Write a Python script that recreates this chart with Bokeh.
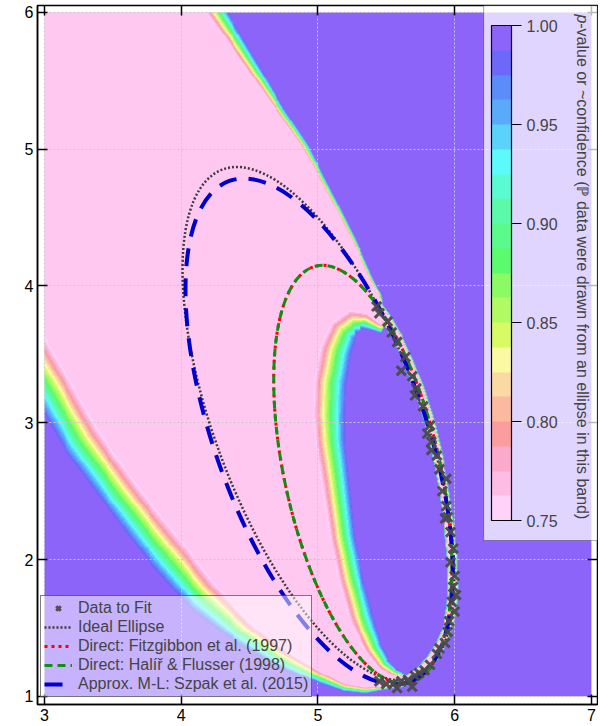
import numpy as np
from bokeh.plotting import figure
from bokeh.models import (Range1d, LinearColorMapper, ColorBar, FixedTicker,
                          PrintfTickFormatter, LinearAxis, Legend, LegendItem,
                          Label, BoxAnnotation)
from bokeh.embed import file_html
from bokeh.resources import INLINE

# ---------------- data ----------------
data_x = [5.43, 5.45, 5.51, 5.54, 5.58, 5.64, 5.61, 5.69, 5.71, 5.72, 5.77, 5.80, 5.82,
          5.83, 5.83, 5.87, 5.89, 5.94, 5.91, 5.94, 5.93, 5.95, 5.97, 5.99, 5.97, 6.00,
          5.99, 6.01, 5.98, 6.00, 5.96, 5.95, 5.93, 5.89, 5.87, 5.82, 5.78, 5.74, 5.71,
          5.69, 5.66, 5.61, 5.58, 5.55, 5.50, 5.45]
data_y = [3.85, 3.80, 3.74, 3.66, 3.59, 3.48, 3.38, 3.34, 3.20, 3.25, 3.12, 2.92, 2.98,
          2.86, 2.80, 2.76, 2.66, 2.59, 2.50, 2.39, 2.30, 2.31, 2.20, 2.08, 1.98, 1.88,
          1.80, 1.74, 1.69, 1.62, 1.55, 1.47, 1.39, 1.35, 1.31, 1.23, 1.19, 1.17, 1.15,
          1.07, 1.12, 1.11, 1.06, 1.09, 1.09, 1.11]

# points traced along each drawn ellipse (an ellipse is fitted through them)
ideal_x = [4.42, 4.19, 4.07, 4.01, 4.01, 4.05, 4.74, 4.99, 5.23, 5.43, 4.60, 4.87, 5.14,
           5.36, 5.69, 5.87, 5.96, 5.99, 5.90, 5.66]
ideal_y = [4.90, 4.78, 4.51, 4.20, 3.91, 3.59, 4.69, 4.51, 4.20, 3.88, 2.15, 1.64, 1.35,
           1.15, 3.34, 2.78, 2.25, 1.80, 1.38, 1.12]
direct_x = [5.01, 4.85, 4.74, 4.70, 4.69, 4.72, 4.85, 4.99, 5.14, 5.28, 5.43, 5.18, 5.33,
            5.43, 5.58, 5.74, 5.87, 5.96, 5.99, 5.95, 5.83, 5.66]
direct_y = [4.13, 4.05, 3.88, 3.69, 3.30, 2.80, 2.15, 1.84, 1.55, 1.30, 1.13, 4.10, 3.98,
            3.88, 3.62, 3.25, 2.78, 2.25, 1.80, 1.50, 1.27, 1.12]
szpak_x = [4.38, 4.21, 4.09, 4.05, 4.04, 4.04, 4.05, 4.55, 4.74, 4.92, 5.04, 5.16, 5.28,
           5.38, 4.50, 4.70, 4.92, 5.09, 5.28, 5.45, 5.69, 5.87, 5.96, 5.99, 5.90, 5.66]
szpak_y = [4.79, 4.66, 4.47, 4.27, 4.10, 3.88, 3.69, 4.77, 4.69, 4.58, 4.43, 4.27, 4.10,
           3.96, 2.15, 1.84, 1.50, 1.33, 1.15, 1.11, 3.34, 2.78, 2.25, 1.80, 1.38, 1.12]

# p-value field: traced band edges (pink side) and band widths
strip_x = [5.44, 5.50, 5.58, 5.66, 5.74, 5.81, 5.87, 5.92, 5.96, 5.985, 5.99, 5.98,
           5.95, 5.90, 5.83, 5.75, 5.66, 5.58, 5.50]
strip_y = [3.84, 3.76, 3.62, 3.45, 3.25, 3.03, 2.78, 2.52, 2.25, 2.00, 1.80, 1.65,
           1.50, 1.38, 1.27, 1.18, 1.12, 1.095, 1.09]
outer_right_x = [4.06, 4.175, 4.71, 4.89, 5.10, 5.25, 5.37, 5.45]
outer_right_y = [6.30, 6.00, 5.255, 5.00, 4.62, 4.33, 4.07, 3.92]
outer_right_w = [0.17, 0.15, 0.06, 0.05, 0.035, 0.03, 0.025, 0.02]
outer_left_x = [5.35, 5.20, 4.99, 4.75, 4.50, 4.25, 4.01, 3.82, 3.63, 3.39, 3.21, 3.01, 2.85]
outer_left_y = [1.065, 1.09, 1.20, 1.35, 1.55, 1.82, 2.13, 2.36, 2.61, 2.95, 3.27, 3.61, 3.90]
outer_left_w = [0.05, 0.06, 0.10, 0.15, 0.20, 0.27, 0.30, 0.29, 0.29, 0.30, 0.30, 0.30, 0.30]
hole_x = [5.55, 5.45, 5.35, 5.28, 5.23, 5.15, 5.09, 5.03, 4.98, 4.96, 4.97, 5.02, 5.10, 5.23, 5.36, 5.46]
hole_y = [1.15, 1.20, 1.32, 1.45, 1.55, 1.85, 2.15, 2.55, 2.85, 3.05, 3.30, 3.55, 3.73, 3.82, 3.80, 3.72]
hole_w = [0.06, 0.10, 0.14, 0.17, 0.19, 0.19, 0.19, 0.21, 0.23, 0.25, 0.25, 0.24, 0.22, 0.20, 0.14, 0.07]
strip_off = 0.022
strip_w = 0.018

cbar_ticks = [0.75, 0.80, 0.85, 0.90, 0.95, 1.00]
palette = ["#ffd2fa", "#fdbce4", "#fcaacb", "#fb9d9f", "#fbb9a0", "#fbd9a2",
           "#fbfaa4", "#d8fa64", "#b2fa64", "#8cfa64", "#5cfa6e", "#5afa8c",
           "#5afaaa", "#5afad2", "#5cfafa", "#5ad2fa", "#5aaafa", "#5a8cfa",
           "#6e68fa", "#8c64fa"]
pink = "#ffc8f0"

x_ticks = [3, 4, 5, 6, 7]
y_ticks = [1, 2, 3, 4, 5, 6]

# ---------------- build the field ----------------
nx, ny = 560, 700
xs = 3 + (np.arange(nx) + 0.5) * 4.0 / nx
ys = 1 + (np.arange(ny) + 0.5) * 5.0 / ny
X, Y = np.meshgrid(xs, ys)


def poly_dist(pts, widths):
    pts = np.asarray(pts, float)
    widths = np.asarray(widths, float)
    dmin = np.full(X.shape, np.inf)
    wsel = np.ones(X.shape)
    for i in range(len(pts) - 1):
        ax, ay = pts[i]
        bx, by = pts[i + 1]
        dx, dy = bx - ax, by - ay
        L2 = max(dx * dx + dy * dy, 1e-12)
        t = np.clip(((X - ax) * dx + (Y - ay) * dy) / L2, 0, 1)
        d = np.hypot(X - (ax + t * dx), Y - (ay + t * dy))
        m = d < dmin
        dmin = np.where(m, d, dmin)
        wsel = np.where(m, widths[i] * (1 - t) + widths[i + 1] * t, wsel)
    return dmin, wsel


def inside(poly):
    poly = np.asarray(poly, float)
    n = len(poly)
    res = np.zeros(X.shape, bool)
    for i in range(n):
        x1, y1 = poly[i]
        x2, y2 = poly[(i + 1) % n]
        if y1 == y2:
            continue
        cond = (y1 > Y) != (y2 > Y)
        xint = x1 + (Y - y1) * (x2 - x1) / (y2 - y1)
        res ^= cond & (X < xint)
    return res


S = np.column_stack([strip_x, strip_y])
tang = np.gradient(S, axis=0)
tang /= np.linalg.norm(tang, axis=1)[:, None]
nrm = np.column_stack([tang[:, 1], -tang[:, 0]])
sgn = np.sign(((S - np.array([5.0, 2.9])) * nrm).sum(1))
nrm *= sgn[:, None]
S_out = S + strip_off * nrm
S_in = S - strip_off * nrm

B_line = np.vstack([np.column_stack([outer_right_x, outer_right_y]), S_out,
                    np.column_stack([outer_left_x, outer_left_y])])
B_w = np.concatenate([outer_right_w, np.full(len(S), strip_w), outer_left_w])
B_poly = np.vstack([B_line, [[2.0, 7.0]]])

H_poly = np.vstack([S_in[1:17], np.column_stack([hole_x, hole_y])])
H_w = np.concatenate([np.full(16, strip_w), hole_w])
H_line = np.vstack([H_poly, H_poly[:1]])
H_wl = np.concatenate([H_w, H_w[:1]])

dB, wB = poly_dist(B_line, B_w)
inB = inside(B_poly)
pB = np.where(inB, 0.70, 0.75 + 0.25 * np.clip(dB / wB, 0, 1))
dH, wH = poly_dist(H_line, H_wl)
inH = inside(H_poly)
pH = np.where(inH, 0.75 + 0.25 * np.clip(dH / wH, 0, 1), 0.70)
field = np.maximum(pB, pH)


# ---------------- ellipse fits through traced points ----------------
def fit_ellipse(px, py):
    x = np.asarray(px, float)
    y = np.asarray(py, float)
    mx, my = x.mean(), y.mean()
    u, v = x - mx, y - my
    D = np.column_stack([u * u, u * v, v * v, u, v, np.ones_like(u)])
    _, _, Vt = np.linalg.svd(D)
    A, B, C, Dd, E, F = Vt[-1]
    u0, v0 = np.linalg.solve(np.array([[2 * A, B], [B, 2 * C]]), [-Dd, -E])
    Fc = F + (Dd * u0 + E * v0) / 2
    lam, vec = np.linalg.eigh(np.array([[A, B / 2], [B / 2, C]]))
    semi = np.sqrt(-Fc / lam)
    i = int(np.argmax(semi))
    ang = float(np.arctan2(vec[1, i], vec[0, i]))
    return u0 + mx, v0 + my, 2 * semi[i], 2 * semi[1 - i], ang


ell_ideal = fit_ellipse(ideal_x, ideal_y)
ell_direct = fit_ellipse(direct_x, direct_y)
ell_szpak = fit_ellipse(szpak_x, szpak_y)

# ---------------- figure ----------------
FONT = "Liberation Sans"
p = figure(width=598, height=724, x_range=Range1d(2.95, 7.045), y_range=Range1d(0.94, 6.05),
           output_backend="svg", toolbar_location=None,
           min_border_left=37, min_border_right=1, min_border_top=5, min_border_bottom=20)
p.background_fill_color = "white"
p.outline_line_color = "black"
p.outline_line_width = 1.5

mapper = LinearColorMapper(palette=palette, low=0.75, high=1.0, low_color=pink,
                           high_color=palette[-1])
p.image(image=[field], x=3, y=1, dw=4, dh=5, color_mapper=mapper, level="image")

for ax, tk in ((p.xaxis[0], x_ticks), (p.yaxis[0], y_ticks)):
    ax.ticker = FixedTicker(ticks=tk)
    ax.major_tick_in = 10
    ax.major_tick_out = 0
    ax.minor_tick_line_color = None
    ax.axis_line_width = 1.5
    ax.major_tick_line_width = 1.5
    ax.major_label_text_font = FONT
    ax.major_label_text_font_size = "16px"
    ax.major_label_text_color = "black"
    ax.major_label_standoff = 4

for loc, tk in (("above", x_ticks), ("right", y_ticks)):
    a = LinearAxis(ticker=FixedTicker(ticks=tk), major_tick_in=10, major_tick_out=0,
                   minor_tick_line_color=None, axis_line_color=None,
                   major_tick_line_width=1.5, major_label_text_color=None,
                   major_label_text_font_size="1px", major_label_standoff=0)
    p.add_layout(a, loc)

p.xgrid.ticker = FixedTicker(ticks=x_ticks)
p.ygrid.ticker = FixedTicker(ticks=y_ticks)
p.grid.grid_line_color = "#c8c8c8"
p.grid.grid_line_dash = "2 2"
p.grid.grid_line_width = 1

# ellipses
styles = [
    dict(line_color="#3c3c3c", line_dash="2 2", line_width=2.5),
    dict(line_color="#ff0000", line_dash="3 4", line_width=3),
    dict(line_color="#109010", line_dash="8 5", line_width=3),
    dict(line_color="#0000cc", line_dash="18 12", line_width=4),
]
for ell, st in zip((ell_ideal, ell_direct, ell_direct, ell_szpak), styles):
    cx, cy, w, h, ang = ell
    p.ellipse(x=[cx], y=[cy], width=[w], height=[h], angle=[ang], fill_alpha=0, **st)

pts = p.scatter(data_x, data_y, marker="x", size=13, line_width=3, line_color="#4a4a4a",
                line_alpha=0.95)

# legend (line samples only; no visible data)
leg_r = [p.line(x=[np.nan, np.nan], y=[np.nan, np.nan], **st) for st in styles]
legend = Legend(items=[
    LegendItem(label="Data to Fit", renderers=[pts]),
    LegendItem(label="Ideal Ellipse", renderers=[leg_r[0]]),
    LegendItem(label="Direct: Fitzgibbon et al. (1997)", renderers=[leg_r[1]]),
    LegendItem(label="Direct: Halíř & Flusser (1998)", renderers=[leg_r[2]]),
    LegendItem(label="Approx. M-L: Szpak et al. (2015)", renderers=[leg_r[3]]),
], location=(3, 7))
legend.label_text_font = FONT
legend.label_text_font_size = "16px"
legend.label_height = 16
legend.glyph_height = 16
legend.glyph_width = 28
legend.spacing = 1
legend.padding = 3
legend.margin = 0
legend.label_standoff = 6
legend.background_fill_color = "white"
legend.background_fill_alpha = 0.5
legend.border_line_color = "black"
legend.border_line_width = 1.2
p.add_layout(legend)

# colour bar box
box = BoxAnnotation(left=6.212, bottom=2.139, fill_color="white", fill_alpha=0.73,
                    line_color="black", line_width=1.2)
p.add_layout(box)

cb = ColorBar(color_mapper=mapper, ticker=FixedTicker(ticks=cbar_ticks),
              formatter=PrintfTickFormatter(format="%.2f"),
              location=(454, 184), width=20, height=495, padding=0, margin=0,
              bar_line_color="black", bar_line_width=1.2,
              major_tick_in=0, major_tick_out=10, major_tick_line_color="black",
              major_tick_line_width=1.2, minor_tick_line_color=None,
              label_standoff=5, major_label_text_font=FONT,
              major_label_text_font_size="16px",
              background_fill_alpha=0, border_line_color=None)
p.add_layout(cb)

t1 = Label(x=6.934, y=5.985, text="p", angle=-np.pi / 2, text_align="left",
           text_baseline="middle", text_font=FONT, text_font_size="16px",
           text_font_style="italic")
t2 = Label(x=6.934, y=5.92, text="-value or ~confidence (\u2119 data were drawn from an ellipse in this band)",
           angle=-np.pi / 2, text_align="left", text_baseline="middle",
           text_font=FONT, text_font_size="16px")
p.add_layout(t1)
p.add_layout(t2)

open("out.html", "w").write(file_html(p, INLINE))
